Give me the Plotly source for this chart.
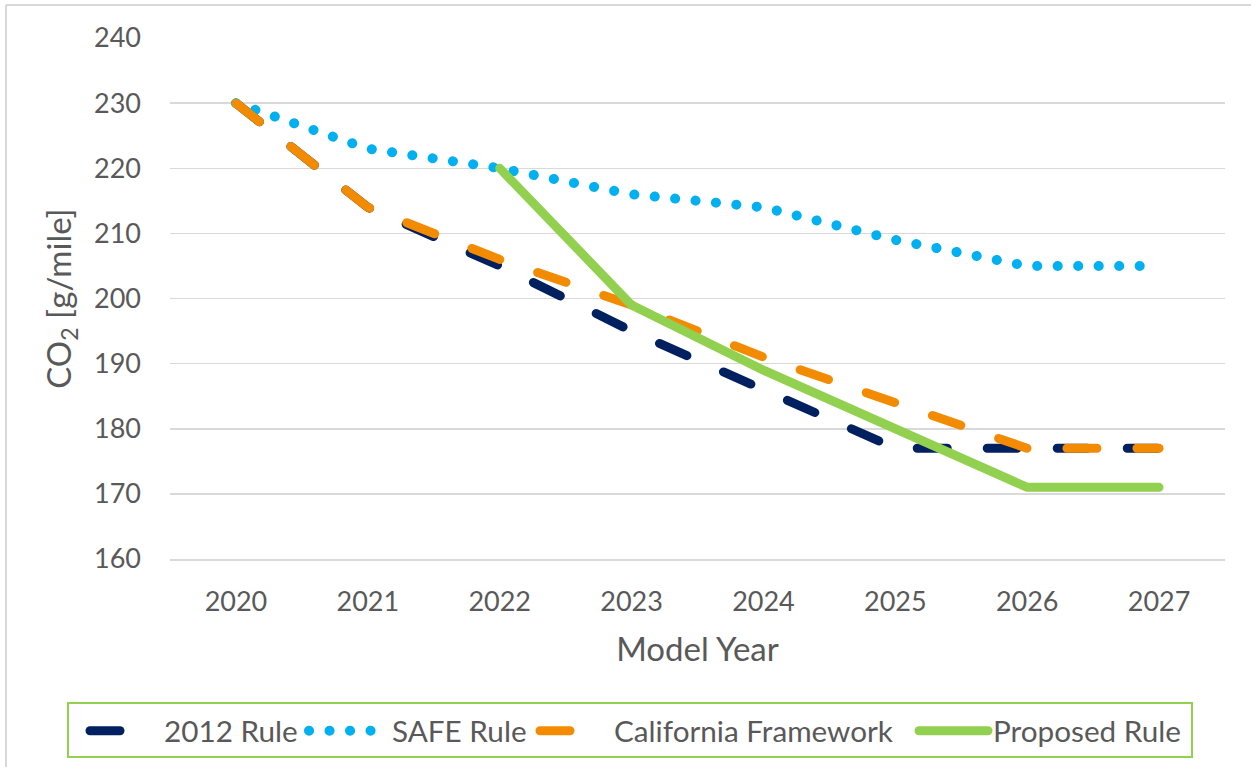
import plotly.graph_objects as go

years = ["2020", "2021", "2022", "2023", "2024", "2025", "2026", "2027"]
rule_2012 = [230, 214, 205, 195, 186, 177, 177, 177]
safe_rule = [230, 223, 220, 216, 214, 209, 205, 205]
california = [230, 214, 206, 199, 191, 184, 177, 177]
proposed = [None, None, 220, 199, 189, 180, 171, 171]

y_ticks = [160, 170, 180, 190, 200, 210, 220, 230, 240]

NAVY = "#002060"
BLUE = "#00B0F0"
ORANGE = "#F38B00"
GREEN = "#92D050"
TXT = "#595959"
GRID = "#D9D9D9"
FONT = "Lato, 'Open Sans', sans-serif"

W, H = 1251, 767
L, R, T, B = 170, 1225, 38, 559


def px_x(px):
    return (px - L) / (R - L)


def px_y(py):
    return (B - py) / (B - T)


fig = go.Figure()
fig.add_trace(go.Scatter(x=years, y=rule_2012, name="2012 Rule", mode="lines",
                         line=dict(color=NAVY, width=9, dash="30px,40px"),
                         legend="legend"))
fig.add_trace(go.Scatter(x=years, y=safe_rule, name="SAFE Rule", mode="lines",
                         line=dict(color=BLUE, width=10, dash="0.1px,20.4px"),
                         legend="legend2"))
fig.add_trace(go.Scatter(x=years, y=california, name="California Framework", mode="lines",
                         line=dict(color=ORANGE, width=9, dash="30px,40px"),
                         legend="legend3"))
fig.add_trace(go.Scatter(x=years, y=proposed, name="Proposed Rule", mode="lines",
                         line=dict(color=GREEN, width=9), connectgaps=False,
                         legend="legend4"))

leg_common = dict(font=dict(family=FONT, size=29.7, color=TXT), bgcolor="rgba(0,0,0,0)",
                  borderwidth=0, xanchor="left", yanchor="middle", y=px_y(731),
                  orientation="v", tracegroupgap=0)

fig.update_layout(
    width=W, height=H,
    margin=dict(l=L, r=W - R, t=T, b=H - B, autoexpand=False),
    paper_bgcolor="white", plot_bgcolor="white",
    font=dict(family=FONT, color=TXT),
    hovermode=False,
    showlegend=True,
    legend=dict(leg_common, x=px_x(85), itemwidth=69),
    legend2=dict(leg_common, x=px_x(304), itemwidth=78),
    legend3=dict(leg_common, x=px_x(535), itemwidth=69),
    legend4=dict(leg_common, x=px_x(914), itemwidth=69),
    xaxis=dict(type="category", range=[-0.5, 7.5], showgrid=False, zeroline=False,
               showline=True, linecolor=GRID, linewidth=1.5,
               ticks="", tickfont=dict(family=FONT, size=27, color=TXT),
               ticklabelstandoff=18,
               title=dict(text="Model Year", font=dict(family=FONT, size=33, color=TXT),
                          standoff=22)),
    yaxis=dict(range=[160, 240], tickvals=y_ticks, showgrid=True, gridcolor=GRID,
               gridwidth=1.5, zeroline=False, showline=False, ticks="",
               tickfont=dict(family=FONT, size=27, color=TXT), ticklabelstandoff=28,
               title=dict(text="CO<sub>2</sub> [g/mile]",
                          font=dict(family=FONT, size=33, color=TXT), standoff=12)),
    shapes=[
        dict(type="line", xref="paper", yref="paper", x0=px_x(6), x1=px_x(1251),
             y0=px_y(5), y1=px_y(5), line=dict(color=GRID, width=2)),
        dict(type="line", xref="paper", yref="paper", x0=px_x(6), x1=px_x(6),
             y0=px_y(5), y1=px_y(770), line=dict(color=GRID, width=2)),
        dict(type="rect", xref="paper", yref="paper", x0=px_x(68), x1=px_x(1192),
             y0=px_y(757), y1=px_y(703), line=dict(color=GREEN, width=2),
             fillcolor="rgba(0,0,0,0)"),
    ],
)

post = """
document.body.style.margin = '0';
document.body.style.overflow = 'hidden';
var gd = document.getElementById('{plot_id}');
function rc(){
  var ps = gd.querySelectorAll('path.js-line');
  for (var i = 0; i < ps.length; i++) {
    ps[i].style.strokeLinecap = 'round';
    ps[i].style.strokeLinejoin = 'round';
  }
}
rc();
if (gd.on) { gd.on('plotly_afterplot', rc); }
setTimeout(rc, 50);
"""

fig.write_html("out.html", post_script=post,
               config={"displayModeBar": False, "staticPlot": True})
